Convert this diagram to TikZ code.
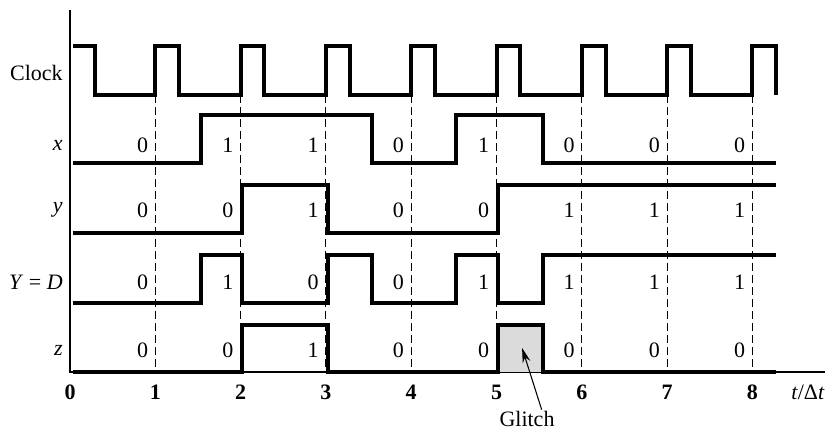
\documentclass[tikz,border=0pt]{standalone}
\usepackage{fontspec}
\setmainfont{Liberation Serif}
\usetikzlibrary{arrows.meta}
\begin{document}
\begin{tikzpicture}[x=0.75pt,y=-0.75pt,
  font=\fontsize{16.5}{19}\selectfont,
  sig/.style={line width=3pt, line join=miter},
  axisline/.style={line width=1.5pt},
  gridline/.style={line width=0.8pt, dash pattern=on 6pt off 3pt},
  val/.style={inner sep=0pt},
  ticklab/.style={inner sep=0pt, font=\fontsize{16.5}{19}\selectfont\bfseries},
  signame/.style={anchor=east, inner sep=0pt}]
\useasboundingbox (0,0) rectangle (832,433);
% axes
\draw[axisline] (70,10) -- (70,372) -- (825,372);
% signal names
\node[signame] (lclock) at (63,73) {Clock};
\node[signame] (lx) at (63,145) {\itshape x};
\node[signame] (ly) at (63,210) {\itshape y};
\node[signame] (lY) at (63,282) {\textit{Y} = \textit{D}};
\node[signame] (lz) at (63,350) {\itshape z};
\node[inner sep=0pt] (tunit) at (808,392) {\textit{t}/Δ\textit{t}};
\begin{scope}[shift={(70,0)}, x=63.975pt]
  % glitch fill
  \fill[gray!28] (5.03,372) rectangle (5.52,324);
  % dashed lines
  \foreach \k in {1,...,8} \draw[gridline] (\k,95) -- (\k,372);
  % clock
  \draw[sig] (0.04,46) -| (0.29,95) -| (1,46) -| (1.28,95) -| (2,46) -| (2.28,95)
     -| (3,46) -| (3.28,95) -| (4,46) -| (4.28,95) -| (5,46) -| (5.28,95)
     -| (6,46) -| (6.28,95) -| (7,46) -| (7.28,95) -| (8,46) -| (8.28,95);
  % x
  \draw[sig] (0.03,163) -| (1.54,115) -| (3.54,163) -| (4.53,115) -| (5.55,163) -- (8.28,163);
  % y
  \draw[sig] (0.03,233) -| (2.02,185) -| (3.02,233) -| (5.02,185) -- (8.28,185);
  % Y = D
  \draw[sig] (0.03,303) -| (1.54,255) -| (2.02,303) -| (3.02,255) -| (3.54,303)
     -| (4.53,255) -| (5.02,303) -| (5.55,255) -- (8.28,255);
  % z
  \draw[sig] (0.03,372) -| (2.02,325) -| (3.02,372) -| (5.02,325) -| (5.55,372) -- (8.28,372);
  % values
  \foreach \v [count=\k] in {0,1,1,0,1,0,0,0}
    \node[val] (x\k) at (\k-0.15,145) {\v};
  \foreach \v [count=\k] in {0,0,1,0,0,1,1,1}
    \node[val] (y\k) at (\k-0.15,210) {\v};
  \foreach \v [count=\k] in {0,1,0,0,1,1,1,1}
    \node[val] (Y\k) at (\k-0.15,282) {\v};
  \foreach \v [count=\k] in {0,0,1,0,0,0,0,0}
    \node[val] (z\k) at (\k-0.15,350) {\v};
  % ticks
  \foreach \k in {0,...,8}
    \node[ticklab] (t\k) at (\k,392) {\k};
  % glitch
  \coordinate (gtip) at (5.3,348);
\end{scope}
\node[inner sep=1pt] (glitch) at (527,419) {Glitch};
\draw[line width=0.8pt, -{Stealth[length=11pt,width=6pt]}] ([xshift=11pt]glitch.north) -- (gtip);
\end{tikzpicture}
\end{document}
